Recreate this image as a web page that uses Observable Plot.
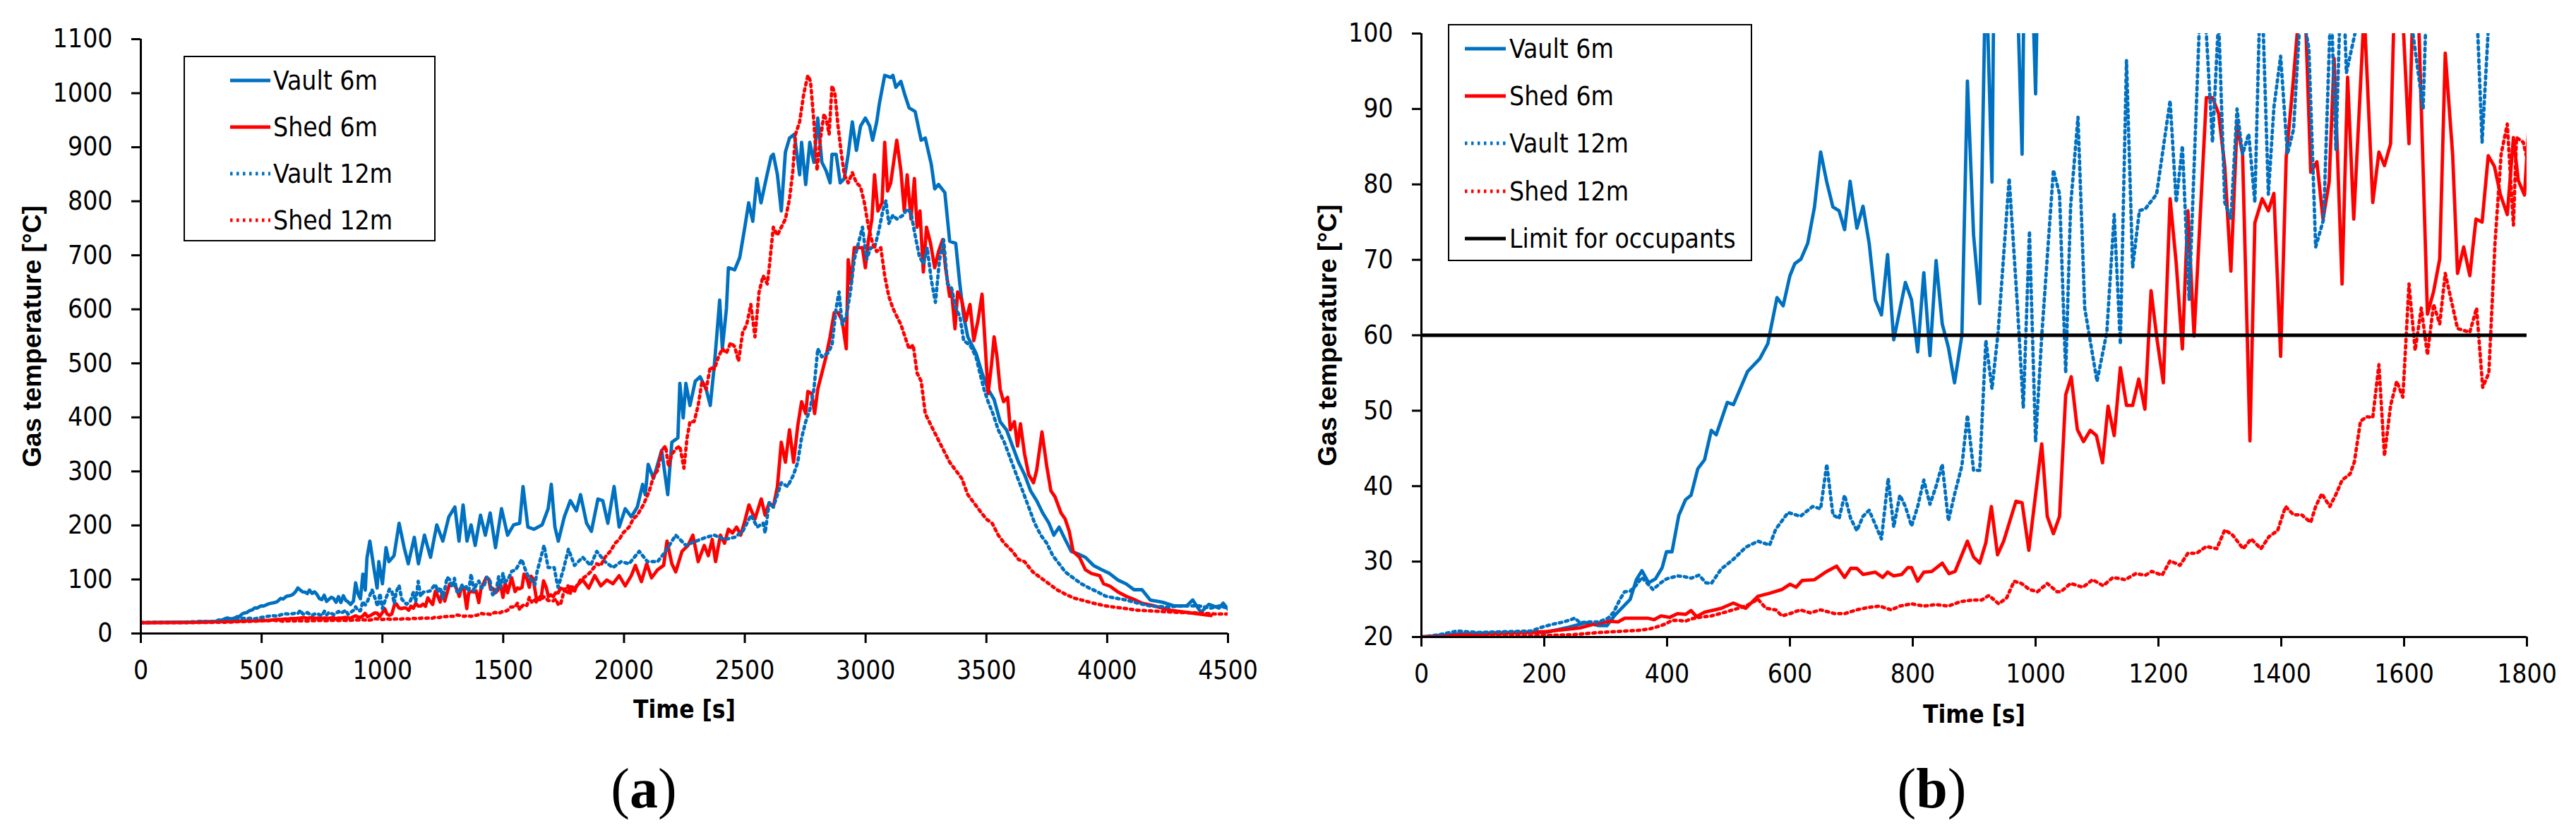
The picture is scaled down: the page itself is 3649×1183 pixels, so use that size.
<!DOCTYPE html>
<html>
<head>
<meta charset="utf-8">
<script src="https://cdn.jsdelivr.net/npm/d3@7"></script>
<script src="https://cdn.jsdelivr.net/npm/@observablehq/plot@0.6"></script>
<style>
  body { margin: 0; background: #fff; }
  #fig { position: relative; width: 3649px; height: 1183px; overflow: hidden; background: #fff; }
  .panel { position: absolute; top: 0; height: 1183px; }
  .panel svg { position: absolute; left: 0; top: 0; }
  .legend { position: absolute; box-sizing: border-box; border: 2.5px solid #000; background: #fff;
            font-family: "DejaVu Sans Condensed", "DejaVu Sans", sans-serif; font-stretch: condensed; font-size: 37px; }
  .legend .row { position: absolute; height: 50px; display: flex; align-items: center; white-space: nowrap; }
  .legend .row svg { position: static; }
  .caption { position: absolute; left: 0; width: 100%; text-align: center; height: 80px; line-height: 80px;
             font-family: "Liberation Serif", "DejaVu Serif", serif; font-size: 80px; }
</style>
</head>
<body>
<div id="fig">
  <div class="panel" id="pa" style="left:0;width:1824px"></div>
  <div class="panel" id="pb" style="left:1824px;width:1825px"></div>
</div>
<script>
// gas temperature [°C] against time [s]
const vault6m = [[0,20],[30,20.2],[60,20.4],[91,20.5],[150,20.6],[201,20.6],[240,21.3],[267,21.9],[289,21.5],[302,21.5],[315,22.9],[340,25],[350,27.6],[359,28.8],[370,27.2],[381,27.7],[392,29.2],[399,31.3],[408,31.3],[419,36.1],[430,38.2],[439,38.8],[450,42.3],[461,43.5],[472,47.4],[480,46.8],[498,51.1],[508,50.8],[531,55.2],[551,56.9],[564,58.9],[579,65],[589,63.9],[600,67.9],[608,69.5],[618,70.1],[629,72.2],[640,77],[650,84.3],[660,80.3],[670,77],[680,76.5],[689,74],[698,80.4],[709,74.2],[719,77.1],[729,72.2],[739,64.7],[749,62.7],[759,70.7],[769,59.4],[788,67],[798,64.7],[808,57.8],[818,68.3],[828,57.3],[838,69.9],[848,61.5],[858,58.4],[868,53.7],[880,60],[889,93.7],[899,73.3],[909,64.2],[919,110],[929,80.3],[936,140],[948,171],[965,120],[978,84],[985,133],[1000,92],[1015,159],[1027,133],[1048,144],[1069,204],[1090,159],[1107,129],[1132,178],[1149,129],[1174,182],[1199,141],[1225,201],[1250,171],[1275,216],[1300,234],[1317,171],[1334,238],[1350,171],[1367,201],[1384,163],[1406,219],[1426,182],[1446,223],[1468,159],[1493,231],[1518,182],[1543,201],[1568,204],[1582,272],[1602,197],[1627,193],[1661,201],[1686,231],[1699,276],[1714,197],[1728,171],[1753,216],[1778,246],[1803,227],[1820,257],[1845,204],[1865,189],[1892,249],[1912,246],[1933,204],[1959,272],[1980,197],[2005,231],[2030,216],[2055,234],[2077,276],[2088,257],[2100,313],[2122,287],[2156,339],[2181,257],[2198,354],[2223,362],[2231,463],[2245,399],[2256,463],[2273,422],[2295,467],[2315,475],[2340,452],[2357,422],[2374,497],[2396,617],[2407,527],[2424,602],[2432,677],[2458,673],[2479,696],[2500,752],[2516,797],[2533,763],[2550,842],[2567,797],[2592,849],[2609,883],[2618,887],[2635,849],[2651,782],[2668,891],[2685,917],[2705,924],[2727,849],[2735,909],[2752,831],[2769,909],[2786,872],[2802,954],[2819,872],[2836,857],[2853,834],[2861,887],[2878,887],[2895,834],[2912,842],[2928,887],[2945,947],[2962,894],[2979,939],[2999,954],[3017,939],[3029,913],[3046,947],[3057,981],[3079,1033],[3104,1029],[3113,1033],[3125,1011],[3146,1022],[3163,996],[3180,973],[3205,966],[3230,913],[3247,917],[3272,868],[3286,823],[3302,831],[3328,816],[3348,726],[3373,722],[3390,647],[3406,587],[3423,549],[3440,534],[3457,519],[3482,482],[3507,452],[3532,433],[3557,392],[3583,377],[3608,347],[3633,317],[3658,294],[3683,264],[3708,246],[3733,223],[3759,204],[3779,182],[3801,197],[3826,174],[3851,152],[3876,148],[3910,141],[3943,126],[3977,118],[4010,111],[4044,99],[4078,92],[4111,81],[4144,81],[4178,62],[4228,58],[4279,51],[4329,51],[4354,62],[4388,39],[4421,54],[4463,47],[4480,56],[4500,45]];

const shed6m = [[0,20],[47,20.2],[135,20.5],[201,20.7],[223,20.9],[258,21.2],[280,21.7],[307,22.1],[320,22],[331,22.5],[368,22.5],[379,22.3],[390,22.8],[404,22.6],[417,23.1],[430,23],[439,23.5],[448,22.7],[461,23.3],[472,23.5],[488,23.8],[508,24.5],[528,23.8],[548,25.4],[567,25.8],[587,26.3],[600,27],[610,26.6],[620,27.5],[640,27.6],[660,28.7],[676,29.4],[689,27.9],[699,29.1],[709,29.1],[719,28.3],[739,28.6],[751,27.9],[759,28.6],[769,28.1],[782,28.3],[792,29.2],[798,29.2],[808,27.4],[818,28.6],[831,28.7],[848,29.8],[859,28.4],[869,28.7],[889,32.7],[899,30.6],[909,29.8],[919,32.5],[928,37.3],[938,30.9],[948,32.7],[968,38],[978,37.8],[989,31.5],[1010,45.6],[1019,36],[1029,33.7],[1039,36],[1049,52.1],[1058,54.5],[1068,47.5],[1078,45.9],[1089,47.4],[1099,46.7],[1109,43.1],[1118,50.6],[1128,46.7],[1138,55.7],[1148,50.7],[1158,50.7],[1168,54.2],[1178,50.2],[1188,65.9],[1198,59.3],[1208,53.7],[1219,78.1],[1229,69.5],[1239,58.2],[1248,76.5],[1258,59.9],[1278,91.5],[1288,91.5],[1298,89.4],[1308,82.4],[1318,68.5],[1328,88],[1337,84],[1349,46],[1357,74.9],[1369,78.1],[1379,76.5],[1388,78.8],[1399,57.2],[1408,83.5],[1419,93.2],[1430,104],[1440,101],[1448,81.6],[1458,83],[1468,75.4],[1478,80.3],[1486,96.7],[1499,66.8],[1508,94.2],[1518,75.4],[1528,91.5],[1535,103],[1549,77.6],[1559,84.3],[1568,82.5],[1578,85.4],[1586,110],[1598,102],[1608,85.4],[1615,106],[1624,101],[1638,62.8],[1648,65.8],[1658,70.1],[1667,97.4],[1679,84],[1687,68.2],[1697,71.7],[1707,67.9],[1717,75.4],[1727,75],[1737,83.8],[1747,82.4],[1757,78.6],[1768,76],[1778,86.2],[1786,80.5],[1796,78.6],[1803,88],[1829,99],[1854,84],[1879,107],[1904,88],[1929,99],[1954,92],[1980,107],[2005,88],[2030,107],[2047,126],[2072,96],[2094,129],[2114,103],[2139,118],[2164,126],[2178,171],[2198,129],[2214,114],[2240,152],[2265,163],[2285,182],[2307,133],[2332,163],[2349,144],[2365,174],[2379,133],[2399,182],[2416,167],[2432,193],[2449,186],[2466,197],[2483,182],[2500,208],[2517,238],[2542,212],[2568,249],[2584,219],[2601,242],[2618,234],[2635,272],[2651,354],[2668,317],[2685,377],[2702,317],[2719,384],[2735,429],[2752,407],[2761,448],[2777,444],[2789,407],[2802,452],[2819,482],[2836,512],[2853,549],[2870,594],[2886,594],[2903,579],[2920,527],[2928,692],[2940,647],[2953,714],[2970,714],[2987,714],[2999,677],[3012,729],[3026,767],[3037,849],[3051,782],[3068,797],[3079,909],[3091,819],[3104,834],[3116,872],[3129,913],[3146,857],[3160,782],[3172,849],[3188,767],[3202,842],[3213,752],[3225,782],[3239,669],[3252,752],[3269,722],[3286,677],[3302,707],[3319,729],[3331,677],[3348,624],[3356,632],[3370,564],[3381,632],[3398,617],[3415,579],[3432,609],[3448,542],[3465,579],[3482,628],[3495,534],[3507,444],[3521,497],[3532,549],[3544,512],[3557,452],[3571,429],[3588,437],[3599,377],[3616,392],[3629,347],[3641,388],[3658,332],[3675,294],[3695,279],[3708,302],[3730,373],[3750,309],[3767,264],[3784,253],[3809,223],[3826,212],[3843,189],[3859,152],[3885,141],[3910,118],[3935,111],[3969,107],[3985,92],[4010,88],[4044,77],[4078,69],[4111,63],[4144,56],[4195,51],[4262,43],[4329,39],[4396,35],[4430,33]];

const vault12m = [[0,20],[29,20.3],[58,20.8],[91,20.6],[135,20.7],[179,20.8],[196,21.3],[214,21.7],[232,22],[250,22.5],[258,21.9],[271,22],[289,22],[304,22.5],[313,23.3],[324,25.1],[331,26],[340,26.1],[350,26.9],[359,27.9],[377,26.3],[390,27.2],[399,27.7],[417,28.1],[428,28],[439,27.8],[452,28.2],[463,27.2],[472,27.1],[488,29],[508,30.3],[528,31.9],[548,32.7],[567,32.2],[577,34.3],[597,36.5],[617,36],[637,37.3],[650,37],[660,42.9],[670,36.2],[680,35.7],[689,38.8],[699,35.7],[709,34.1],[719,36],[729,36.8],[739,34.9],[749,33],[760,41],[769,34.6],[779,38.8],[788,37.3],[798,34.7],[808,37.3],[818,40.8],[828,37.6],[838,40],[848,42.9],[858,35.4],[868,38.9],[880,42.7],[889,49.4],[899,42.1],[909,42.1],[919,59.3],[929,52.9],[939,60.4],[957,80.8],[970,64.4],[980,50.4],[990,73.8],[1000,45.9],[1010,59.9],[1029,81.9],[1039,78.7],[1049,55],[1057,77.1],[1069,88.9],[1080,63.6],[1100,53.9],[1116,60.4],[1128,76],[1138,58.8],[1148,96.4],[1158,69],[1169,76.5],[1179,76.8],[1197,78.7],[1219,91.1],[1229,77.6],[1239,85.1],[1250,64.7],[1268,104],[1278,100],[1288,85.6],[1298,102],[1308,77.6],[1318,75.4],[1328,90],[1337,84],[1347,86.7],[1357,77.6],[1367,110],[1379,78.7],[1388,90.2],[1399,97],[1410,84],[1420,87.3],[1432,104],[1445,98],[1456,71.7],[1469,75.4],[1481,105],[1489,84.6],[1499,112],[1506,94.8],[1520,100],[1535,115],[1552,118],[1577,137],[1590,120],[1602,107],[1611,102],[1631,90],[1640,114],[1669,163],[1686,122],[1711,122],[1720,100],[1727,85.6],[1736,99],[1750,120],[1770,156],[1795,126],[1829,141],[1862,126],[1887,152],[1921,133],[1954,122],[1988,133],[2021,129],[2063,152],[2097,133],[2139,133],[2172,152],[2214,182],[2256,163],[2298,171],[2340,178],[2374,182],[2416,174],[2458,178],[2491,189],[2526,219],[2551,197],[2576,204],[2584,186],[2601,242],[2618,234],[2635,257],[2651,279],[2677,272],[2702,294],[2719,317],[2735,362],[2752,392],[2769,414],[2786,452],[2802,527],[2819,512],[2844,519],[2861,534],[2878,602],[2890,632],[2903,572],[2920,587],[2937,632],[2953,692],[2970,722],[2987,752],[3004,692],[3021,714],[3037,714],[3054,744],[3071,782],[3084,801],[3096,759],[3113,774],[3129,767],[3155,774],[3172,786],[3188,778],[3205,737],[3222,699],[3239,684],[3255,714],[3272,654],[3289,613],[3306,692],[3323,729],[3339,647],[3356,639],[3373,602],[3390,587],[3406,542],[3432,534],[3457,512],[3473,482],[3490,452],[3507,429],[3527,407],[3549,377],[3574,354],[3599,324],[3624,294],[3650,264],[3675,234],[3700,204],[3725,182],[3750,167],[3775,144],[3801,129],[3826,114],[3859,103],[3893,92],[3926,84],[3960,77],[3994,69],[4027,66],[4078,62],[4128,56],[4178,51],[4245,49],[4312,51],[4379,51],[4430,47],[4463,51],[4500,47]];

const shed12m = [[0,20],[91,20.1],[201,20.2],[245,20.3],[289,20.6],[333,20.8],[355,20.9],[373,21.1],[390,21.5],[399,21.8],[408,22.2],[419,22.2],[430,22.1],[439,22.4],[452,22.6],[472,22.8],[495,23.3],[528,24.1],[548,25],[561,23.8],[577,23.6],[587,22.8],[600,23.1],[617,23.6],[633,23.2],[650,23.6],[673,23.1],[689,23.1],[709,23.6],[726,23.9],[746,24.1],[765,23.6],[779,24.1],[798,24.4],[818,24.1],[838,24.3],[858,24.1],[878,24.7],[897,24.9],[912,24.9],[924,25.5],[940,24.4],[953,25.2],[965,27.4],[977,27.1],[990,26.3],[1003,26],[1019,27.1],[1035,26],[1041,26],[1057,27.1],[1077,26.6],[1093,27.6],[1110,26.8],[1126,27.9],[1146,27.6],[1163,28.4],[1179,28.2],[1189,28.7],[1206,28.2],[1219,30.1],[1235,29.5],[1248,31.1],[1262,31.1],[1278,32],[1295,31.7],[1308,34.2],[1321,33.5],[1338,31.7],[1351,33],[1367,31.7],[1380,33.3],[1394,34.1],[1407,37.3],[1420,36.2],[1433,36.2],[1448,35.2],[1456,37.3],[1466,39],[1479,37.3],[1489,38.9],[1499,40.8],[1512,41.6],[1519,43.2],[1529,48.6],[1539,49.2],[1549,49.1],[1559,56.1],[1568,44],[1578,50.7],[1588,53.9],[1598,51.8],[1608,66.8],[1618,58],[1628,63.6],[1638,57.4],[1648,64.1],[1658,61.5],[1667,68.2],[1687,60.9],[1707,60.4],[1718,63.6],[1728,53.1],[1738,55],[1748,72.2],[1758,84],[1768,88],[1778,74.6],[1783,86.2],[1794,85.6],[1799,83.8],[1820,99],[1845,107],[1862,114],[1887,129],[1904,126],[1921,141],[1943,152],[1963,167],[1980,174],[1996,186],[2021,197],[2038,212],[2055,219],[2080,238],[2105,264],[2122,291],[2139,302],[2156,339],[2172,347],[2184,309],[2198,332],[2218,343],[2231,347],[2248,306],[2261,362],[2273,392],[2290,392],[2307,422],[2323,467],[2340,452],[2357,493],[2374,489],[2391,512],[2407,527],[2424,519],[2441,538],[2458,531],[2474,504],[2491,557],[2508,572],[2525,609],[2542,549],[2559,632],[2576,662],[2593,647],[2601,677],[2618,752],[2635,737],[2651,752],[2668,767],[2685,804],[2699,857],[2710,924],[2727,947],[2744,999],[2761,1033],[2772,1022],[2786,947],[2799,857],[2811,909],[2828,962],[2839,947],[2849,924],[2861,1014],[2873,999],[2886,939],[2900,887],[2912,849],[2928,834],[2945,853],[2962,834],[2979,827],[2995,797],[3012,752],[3029,722],[3046,707],[3063,714],[3079,662],[3096,624],[3113,602],[3129,587],[3146,572],[3163,549],[3180,527],[3197,534],[3213,482],[3230,467],[3247,407],[3272,384],[3297,362],[3323,339],[3348,317],[3373,302],[3398,287],[3423,257],[3448,242],[3473,227],[3499,212],[3524,204],[3549,182],[3574,167],[3608,152],[3633,137],[3658,133],[3692,114],[3725,103],[3759,92],[3792,81],[3826,73],[3859,66],[3893,62],[3943,56],[3994,51],[4061,47],[4128,43],[4212,41],[4296,39],[4379,38],[4447,36],[4500,36]];

const seriesNames = ["Vault 6m", "Shed 6m", "Vault 12m", "Shed 12m"];
const seriesValues = [vault6m, shed6m, vault12m, shed12m];
const limitName = "Limit for occupants";
const occupantLimit = [60];

const xTicksA = d3.range(0, 4501, 500);
const yTicksA = d3.range(0, 1101, 100);
const xTicksB = d3.range(0, 1801, 200);
const yTicksB = d3.range(20, 101, 10);

// styles
const BLUE = "#0070C0", RED = "#FF0000";
const look = {
  "Vault 6m": {stroke: BLUE, dash: null},
  "Shed 6m": {stroke: RED, dash: null},
  "Vault 12m": {stroke: BLUE, dash: "3.5 5.5"},
  "Shed 12m": {stroke: RED, dash: "3.5 5.5"},
  [limitName]: {stroke: "#000", dash: null}
};
const LW = 4.8;
const tickFont = "'DejaVu Sans Condensed', 'DejaVu Sans', sans-serif";

const rows = seriesNames.map((name, i) => seriesValues[i].map(([t, v]) => ({name, t, v})));

function seriesLines() {
  return rows.map(r => Plot.line(r, {
    x: "t", y: "v", stroke: look[r[0].name].stroke, strokeWidth: LW,
    strokeDasharray: look[r[0].name].dash, strokeLinejoin: "round", clip: true
  }));
}

function axes(xt, yt, x0, y0, ytitleDx, xtitleDy) {
  return [
    Plot.axisX({ticks: xt, tickSize: 14, tickPadding: 24, strokeWidth: 3, label: null, tickFormat: d => `${d}`}),
    Plot.axisY({ticks: yt, tickSize: 13, tickPadding: 27, strokeWidth: 3, label: null, tickFormat: d => `${d}`}),
    Plot.ruleX([x0], {strokeWidth: 3}),
    Plot.ruleY([y0], {strokeWidth: 3}),
    Plot.text(["Gas temperature [°C]"], {text: d => d, frameAnchor: "left", dx: ytitleDx, rotate: -90,
      textAnchor: "middle", lineAnchor: "middle",
      fontSize: 37, fontWeight: "bold", fontFamily: "'Liberation Sans', Arial, sans-serif"}),
    Plot.text(["Time [s]"], {text: d => d, frameAnchor: "bottom", dy: xtitleDy,
      textAnchor: "middle", lineAnchor: "middle",
      fontSize: 35, fontWeight: "bold", fontFamily: tickFont})
  ];
}

const chartA = Plot.plot({
  width: 1824, height: 1040,
  marginLeft: 199, marginRight: 85, marginTop: 55, marginBottom: 143,
  style: {fontFamily: tickFont, fontSize: "37px", fontStretch: "condensed", background: "transparent", overflow: "visible"},
  x: {domain: [0, 4500]},
  y: {domain: [0, 1100]},
  marks: [
    ...seriesLines(),
    ...axes(xTicksA, yTicksA, 0, 0, -153, 108)
  ]
});

const chartB = Plot.plot({
  width: 1825, height: 1040,
  marginLeft: 189, marginRight: 70, marginTop: 47, marginBottom: 138,
  style: {fontFamily: tickFont, fontSize: "37px", fontStretch: "condensed", background: "transparent", overflow: "visible"},
  x: {domain: [0, 1800]},
  y: {domain: [20, 100]},
  marks: [
    ...seriesLines(),
    Plot.ruleY(occupantLimit, {stroke: "#000", strokeWidth: LW}),
    ...axes(xTicksB, yTicksB, 0, 20, -132, 110)
  ]
});

function legend(names, box, sampleX0, sampleLen, textX, rowY) {
  const div = document.createElement("div");
  div.className = "legend";
  Object.assign(div.style, {left: box[0] + "px", top: box[1] + "px", width: box[2] + "px", height: box[3] + "px"});
  names.forEach((name, i) => {
    const row = document.createElement("div");
    row.className = "row";
    row.style.left = sampleX0 + "px";
    row.style.top = (rowY[i] - 25) + "px";
    const st = look[name];
    row.innerHTML =
      `<svg width="${sampleLen}" height="10"><line x1="0" x2="${sampleLen}" y1="5" y2="5" stroke="${st.stroke}" stroke-width="${LW}"${st.dash ? ` stroke-dasharray="${st.dash}"` : ""}/></svg>` +
      `<span style="margin-left:${textX - sampleX0 - sampleLen}px">${name}</span>`;
    div.appendChild(row);
  });
  return div;
}

const pa = document.getElementById("pa");
pa.append(chartA);
pa.append(legend(seriesNames, [260, 79, 357, 263], 64, 57, 125, [33, 99, 165, 231]));
const capA = document.createElement("div");
capA.className = "caption"; capA.style.top = "1077px"; capA.innerHTML = "(<b>a</b>)";
pa.append(capA);

const pb = document.getElementById("pb");
pb.append(chartB);
pb.append(legend([...seriesNames, limitName], [227, 34, 431, 336], 22, 58, 85, [33, 100, 167, 235, 302]));
const capB = document.createElement("div");
capB.className = "caption"; capB.style.top = "1077px"; capB.innerHTML = "(<b>b</b>)";
pb.append(capB);
</script>
</body>
</html>
